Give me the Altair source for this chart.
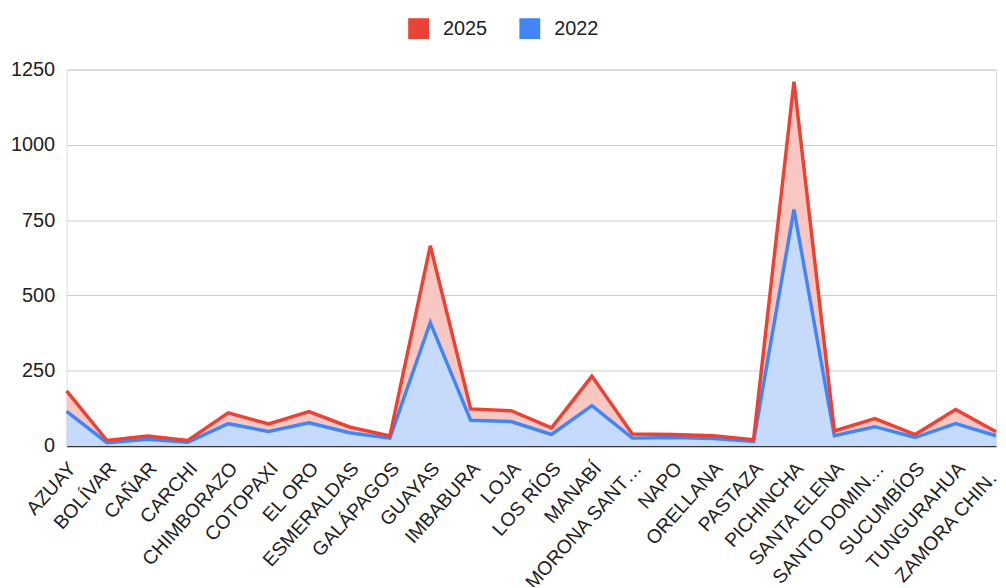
import altair as alt
import pandas as pd

provinces = ["AZUAY", "BOLÍVAR", "CAÑAR", "CARCHI", "CHIMBORAZO", "COTOPAXI", "EL ORO",
             "ESMERALDAS", "GALÁPAGOS", "GUAYAS", "IMBABURA", "LOJA", "LOS RÍOS", "MANABÍ",
             "MORONA SANT…", "NAPO", "ORELLANA", "PASTAZA", "PICHINCHA", "SANTA ELENA",
             "SANTO DOMIN…", "SUCUMBÍOS", "TUNGURAHUA", "ZAMORA CHIN…"]
v2025 = [183, 18, 33, 18, 110, 73, 114, 63, 33, 665, 123, 117, 60, 232,
         40, 38, 34, 21, 1210, 50, 91, 38, 121, 47]
v2022 = [115, 11, 22, 12, 74, 48, 77, 44, 26, 410, 85, 81, 38, 134,
         26, 28, 25, 15, 785, 34, 64, 28, 74, 34]

series = ["2025", "2022"]
y_ticks = [0, 250, 500, 750, 1000, 1250]
RED = "#EA4335"
BLUE = "#4285F4"
FONT = "Liberation Sans"

df = pd.DataFrame({"prov": provinces, "2025": v2025, "2022": v2022})

base = alt.Chart(df).transform_fold(["2025", "2022"], as_=["serie", "valor"])

x = alt.X("prov:N", sort=None, title=None,
          scale=alt.Scale(type="point", padding=0),
          axis=alt.Axis(labelAngle=-48, labelAlign="right", labelBaseline="alphabetic",
                        labelFontSize=19.5, labelColor="#222222", labelFont=FONT,
                        ticks=False, domainColor="#333333", domainWidth=1.5,
                        labelPadding=23, labelOffset=10, labelLimit=400, grid=False,
                        labelOverlap=False))
y = alt.Y("valor:Q", title=None,
          scale=alt.Scale(domain=[0, 1250], nice=False),
          axis=alt.Axis(values=y_ticks, format="d", labelFontSize=20,
                        labelColor="#222222", labelFont=FONT, ticks=False,
                        domain=False, gridColor="#cccccc", gridWidth=1, labelPadding=12))

area_red = base.transform_filter(alt.datum.serie == "2025").mark_area(
    color="#f9c7c2", opacity=1).encode(x=x, y=y)
area_blue = base.transform_filter(alt.datum.serie == "2022").mark_area(
    color="#c6dafc", opacity=1).encode(x=x, y=y)

color = alt.Color("serie:N", title=None,
                  scale=alt.Scale(domain=series, range=[RED, BLUE]),
                  legend=alt.Legend(orient="none", legendX=344, legendY=-52,
                                    direction="horizontal", symbolType="square",
                                    symbolSize=100, symbolStrokeWidth=11,
                                    labelFontSize=20, labelColor="#222222",
                                    labelFont=FONT, labelOffset=14,
                                    columnPadding=15))

line_blue = base.transform_filter(alt.datum.serie == "2022").mark_line(
    strokeWidth=3.5).encode(x=x, y=y, color=color)
line_red = base.transform_filter(alt.datum.serie == "2025").mark_line(
    strokeWidth=3.5).encode(x=x, y=y, color=color)

chart = alt.layer(area_red, area_blue, line_blue, line_red).properties(
    width=936, height=379,
    padding={"left": 59, "top": 60, "right": 2, "bottom": 140},
    autosize=alt.AutoSizeParams(type="none"),
).configure_view(stroke=None).configure(background="white")

chart.save("out.html", embed_options={"renderer": "svg", "actions": False})
